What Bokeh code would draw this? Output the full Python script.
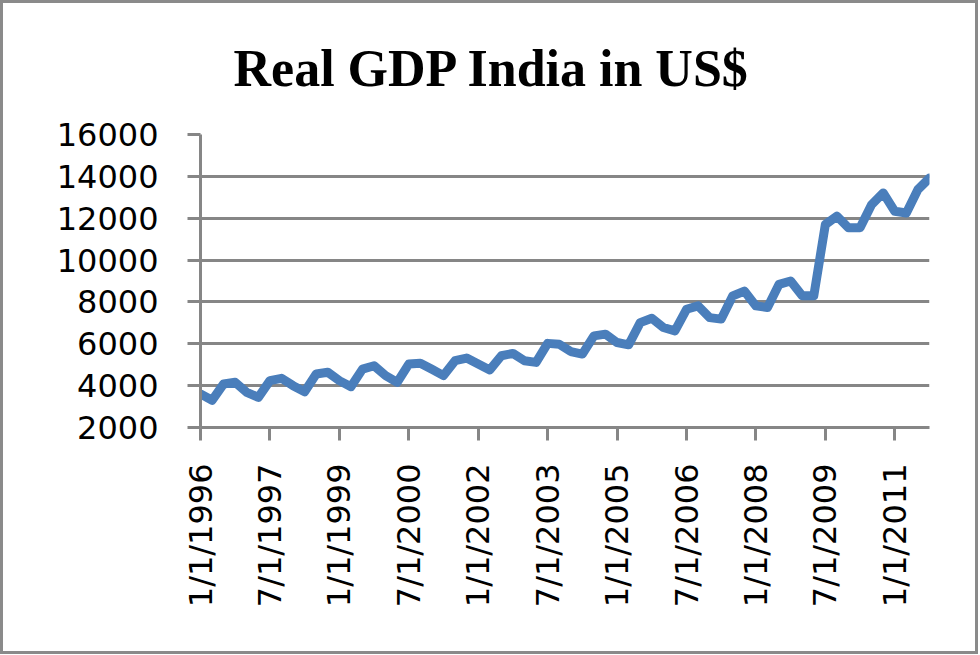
from math import pi
from bokeh.plotting import figure
from bokeh.models import FixedTicker, Range1d, Title, ColumnDataSource
from bokeh.embed import file_html
from bokeh.resources import INLINE

title_text = "Real GDP India in US$"

# quarterly observations, 1/1/1996 .. 10/1/2011 (category index)
quarter_index = list(range(64))
gdp_values = [
    3600, 3300, 4080, 4160, 3680, 3440, 4240, 4350,
    4000, 3710, 4560, 4640, 4240, 3950, 4790, 4950,
    4480, 4160, 5030, 5070, 4780, 4480, 5190, 5320,
    5030, 4750, 5430, 5540, 5190, 5110, 6020, 5980,
    5630, 5510, 6380, 6460, 6060, 5950, 7010, 7220,
    6780, 6620, 7650, 7810, 7250, 7180, 8290, 8520,
    7810, 7730, 8840, 9000, 8290, 8290, 11700, 12100,
    11540, 11540, 12650, 13210, 12330, 12250, 13370, 13920,
]

x_tick_positions = [0, 6, 12, 18, 24, 30, 36, 42, 48, 54, 60]
x_tick_labels = ["1/1/1996", "7/1/1997", "1/1/1999", "7/1/2000", "1/1/2002",
                 "7/1/2003", "1/1/2005", "7/1/2006", "1/1/2008", "7/1/2009",
                 "1/1/2011"]
y_ticks = [2000, 4000, 6000, 8000, 10000, 12000, 14000, 16000]

src = ColumnDataSource(data=dict(x=quarter_index, y=gdp_values))

grey = "#868686"
p = figure(width=978, height=654, output_backend="svg", toolbar_location=None,
           x_range=Range1d(quarter_index[0], quarter_index[-1]),
           y_range=Range1d(y_ticks[0], y_ticks[-1]),
           min_border_left=200, min_border_right=49,
           min_border_top=133, min_border_bottom=227)
p.outline_line_color = None
p.background_fill_color = "white"
p.border_fill_color = None
p.styles = {"background-color": "white",
            "box-shadow": "inset 0 0 0 3px #8a8a8a"}

p.line("x", "y", source=src, line_width=9, line_color="#4A7EBB",
       line_join="round", line_cap="round")

# x axis
p.xaxis.ticker = FixedTicker(ticks=x_tick_positions)
p.xaxis.major_label_overrides = {t: l for t, l in zip(x_tick_positions, x_tick_labels)}
p.xaxis.major_label_orientation = pi / 2
p.xaxis.major_label_standoff = 23
# y axis
p.yaxis.ticker = FixedTicker(ticks=y_ticks)
p.yaxis.major_label_standoff = 29

for ax in (p.xaxis[0], p.yaxis[0]):
    ax.axis_line_color = grey
    ax.axis_line_width = 3
    ax.major_tick_line_color = grey
    ax.major_tick_line_width = 3
    ax.major_tick_out = 13
    ax.major_tick_in = 0
    ax.minor_tick_line_color = None
    ax.major_label_text_font = "DejaVu Sans"
    ax.major_label_text_font_size = "32px"
    ax.major_label_text_color = "black"

p.xgrid.visible = False
p.ygrid.ticker = FixedTicker(ticks=y_ticks)
p.ygrid.grid_line_color = grey
p.ygrid.grid_line_width = 3

title = Title(text=title_text, align="left", offset=33,
              text_font="Liberation Serif", text_font_style="bold",
              text_font_size="52px", text_color="black", standoff=75)
p.add_layout(title, "above")

open("out.html", "w").write(file_html(p, INLINE))
